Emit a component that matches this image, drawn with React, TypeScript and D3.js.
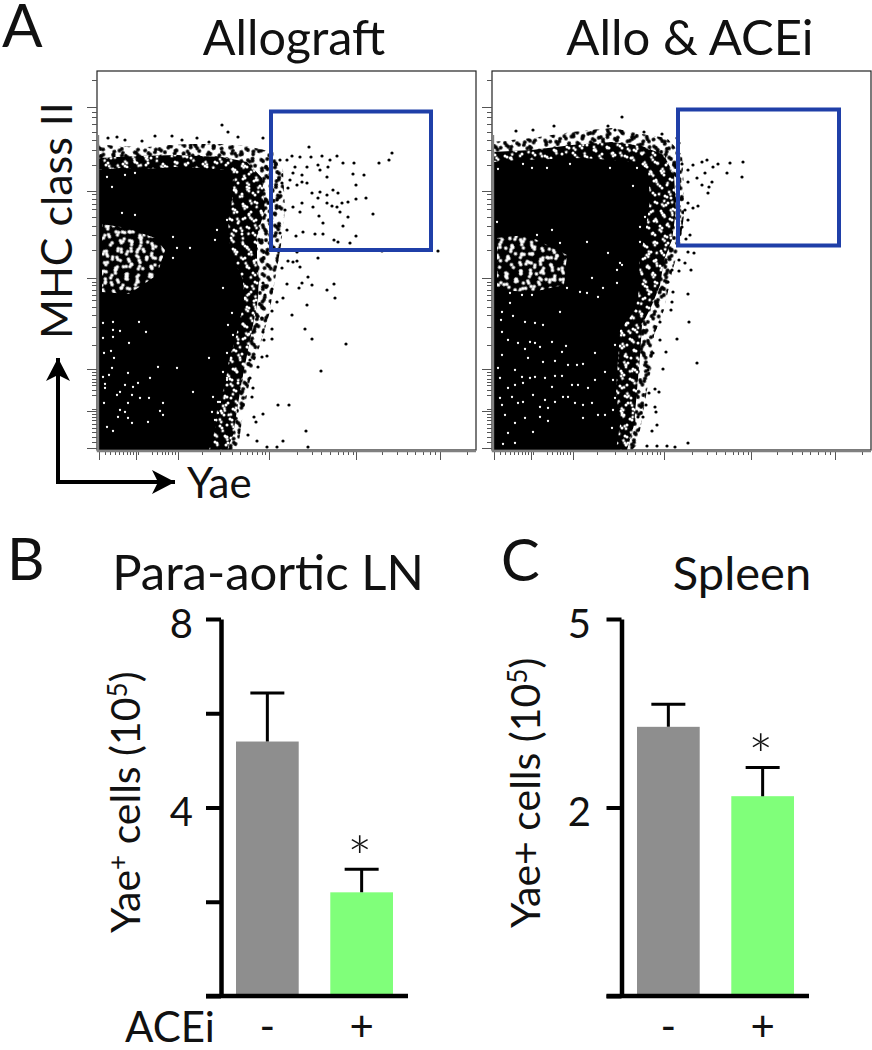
import React, { useEffect, useRef } from 'react';
import * as d3 from 'd3';

type Pt = [number, number];

// Flow plots, both axes in display channels 0-379
const channelMax = 379;
const majorTicks = [2, 39, 81, 172, 259, 343];
const minorTicks = [8, 13, 18, 22, 26, 30, 33, 36, 41, 55, 60, 65, 68, 71, 75, 78, 105, 123, 135, 143, 150, 155, 160, 165, 168,
  200, 215, 224, 233, 241, 246, 251, 256, 285, 300, 310, 318, 326, 333, 338, 370];

// Allograft: outlines of the solid cloud, its speckled rim and the scattered edge
const alloCore: Pt[] = [[0, 280], [23, 282], [43, 281], [63, 282], [78, 283], [103, 282], [128, 280], [136, 272], [135, 250], [131, 228],
  [133, 205], [138, 188], [146, 170], [147, 150], [143, 130], [138, 110], [132, 90], [128, 65], [120, 40], [118, 20], [112, 0], [0, 0]];
const alloRim: Pt[] = [[0, 292], [40, 294], [80, 295], [125, 293], [150, 288], [165, 272], [168, 240], [160, 215], [160, 190], [162, 170],
  [160, 145], [155, 120], [150, 95], [145, 70], [140, 40], [136, 15], [130, 0], [0, 0]];
const alloEdge: Pt[] = [[0, 306], [20, 304], [50, 303], [90, 306], [125, 306], [150, 304], [176, 298], [186, 280], [188, 240], [184, 205],
  [178, 170], [172, 135], [164, 108], [155, 80], [150, 55], [145, 30], [142, 8], [138, 0], [0, 0]];
const alloHole: Pt[] = [[5, 226], [30, 222], [58, 212], [68, 200], [60, 175], [32, 156], [5, 158]];
// gaps in the solid cloud
const alloGaps: Pt[] = [[6, 127], [16, 128], [42, 128], [16, 120], [23, 119], [49, 118], [6, 112], [16, 113], [32, 107], [7, 97], [14, 99],
  [17, 92], [61, 83], [80, 82], [112, 92], [15, 82], [31, 77], [12, 75], [6, 73], [53, 72], [8, 66], [28, 65], [41, 67], [36, 63], [8, 62],
  [23, 58], [20, 55], [96, 58], [35, 55], [43, 52], [52, 52], [66, 47], [31, 47], [7, 47], [23, 40], [63, 39], [28, 38], [66, 35], [21, 33],
  [31, 32], [35, 27], [10, 23], [16, 19], [51, 28], [116, 53], [121, 48], [115, 38], [121, 37], [118, 30], [126, 78], [126, 162], [130, 72],
  [135, 137], [131, 125], [136, 115], [130, 97], [123, 48], [130, 70], [10, 273], [15, 263], [28, 275], [38, 277], [76, 213], [80, 202],
  [93, 202], [76, 192], [120, 220], [130, 230], [118, 210], [25, 237], [38, 235]];
const alloDots: Pt[] = [[125, 325], [131, 318], [141, 313], [166, 312], [212, 303], [295, 297], [292, 290], [282, 287], [240, 294], [225, 294],
  [203, 293], [195, 294], [214, 293], [233, 290], [246, 287], [257, 287], [221, 285], [231, 283], [223, 280], [256, 276], [267, 275],
  [230, 273], [259, 265], [236, 260], [241, 257], [269, 252], [259, 251], [251, 248], [245, 247], [230, 255], [223, 258], [215, 257],
  [221, 252], [230, 247], [235, 244], [240, 243], [243, 238], [276, 236], [251, 233], [222, 234], [216, 243], [205, 247], [196, 243],
  [188, 240], [203, 238], [226, 227], [246, 224], [190, 220], [183, 217], [206, 218], [199, 214], [218, 216], [226, 216], [259, 214],
  [237, 210], [241, 208], [253, 207], [341, 199], [285, 199], [221, 192], [200, 198], [191, 189], [200, 189], [183, 290], [196, 277],
  [193, 270], [200, 265], [191, 262], [183, 258], [180, 250], [185, 267], [205, 275], [210, 283], [205, 268], [210, 267], [198, 283],
  [190, 290], [185, 182], [196, 188], [203, 183], [211, 173], [190, 166], [205, 167], [215, 165], [202, 162], [230, 160], [237, 166],
  [238, 152], [186, 152], [180, 148], [210, 145], [195, 135], [208, 121], [215, 111], [249, 106], [224, 79], [181, 45], [192, 45],
  [209, 19], [186, 9], [211, 3], [180, 3], [170, 3], [160, 9], [151, 15], [166, 36], [157, 33], [159, 28], [156, 62], [155, 53],
  [153, 72], [170, 94], [165, 93], [161, 83], [153, 90], [175, 111], [167, 110], [175, 121], [166, 118], [175, 139], [165, 132],
  [175, 161], [168, 155], [166, 167], [11, 312], [20, 313], [28, 310], [45, 309], [58, 314], [75, 314], [85, 310], [100, 312], [112, 308]];

// Allo & ACEi
const aceCore: Pt[] = [[0, 288], [30, 290], [60, 291], [90, 292], [120, 290], [145, 288], [156, 280], [158, 250], [152, 210], [147, 190],
  [148, 165], [143, 140], [128, 120], [126, 90], [124, 60], [128, 25], [124, 0], [0, 0]];
const aceRim: Pt[] = [[0, 298], [40, 300], [80, 305], [120, 308], [150, 304], [172, 295], [182, 275], [184, 240], [180, 210], [172, 190],
  [168, 165], [160, 145], [150, 125], [148, 95], [145, 60], [142, 25], [135, 0], [0, 0]];
const aceEdge: Pt[] = [[0, 308], [40, 312], [80, 318], [120, 322], [150, 316], [175, 312], [190, 295], [192, 262], [192, 235], [188, 205],
  [180, 178], [172, 140], [162, 115], [160, 85], [155, 60], [150, 30], [145, 5], [140, 0], [0, 0]];
const aceHole: Pt[] = [[5, 212], [35, 215], [55, 205], [75, 195], [72, 165], [40, 158], [5, 160]];
const aceGaps: Pt[] = [[10, 138], [9, 130], [18, 147], [21, 134], [33, 128], [43, 127], [51, 125], [10, 118], [16, 110], [26, 107], [38, 108],
  [43, 107], [60, 108], [48, 103], [33, 101], [70, 98], [74, 104], [10, 95], [36, 92], [51, 88], [63, 89], [6, 82], [23, 80], [30, 73],
  [38, 72], [43, 73], [8, 72], [53, 72], [63, 74], [70, 74], [76, 85], [85, 85], [91, 86], [103, 97], [113, 78], [103, 70], [80, 65], [86, 65],
  [96, 62], [23, 65], [16, 62], [31, 67], [8, 52], [20, 53], [26, 47], [41, 55], [31, 48], [53, 50], [60, 63], [63, 48], [71, 53], [76, 53],
  [83, 47], [91, 45], [100, 47], [106, 35], [113, 35], [91, 32], [10, 45], [13, 35], [23, 27], [33, 32], [48, 43], [56, 42], [48, 33], [56, 29],
  [41, 18], [16, 17], [11, 6], [23, 7], [120, 22], [121, 40], [123, 52], [121, 70], [123, 105], [68, 138], [88, 158], [95, 157], [106, 153],
  [111, 162], [125, 167], [100, 172], [125, 180], [130, 185], [75, 162], [30, 155], [40, 155], [18, 157], [6, 281], [31, 286], [40, 282],
  [55, 282], [78, 286], [118, 282], [145, 282], [141, 264], [153, 233], [5, 228], [60, 220], [148, 223], [45, 215], [68, 207], [95, 208],
  [116, 197], [128, 187], [148, 208]];
const aceDots: Pt[] = [[130, 333], [62, 324], [24, 319], [41, 320], [116, 324], [123, 320], [130, 317], [170, 316], [152, 318], [185, 312],
  [187, 307], [251, 288], [238, 287], [226, 286], [215, 290], [210, 288], [221, 283], [235, 277], [250, 273], [213, 277], [196, 280],
  [201, 285], [190, 286], [205, 272], [196, 268], [210, 265], [220, 268], [217, 263], [216, 257], [206, 244], [196, 247], [201, 242],
  [193, 240], [196, 230], [198, 215], [194, 211], [190, 223], [196, 198], [202, 197], [187, 190], [193, 187], [196, 156], [197, 128],
  [185, 111], [205, 87], [171, 81], [174, 98], [168, 110], [168, 128], [179, 140], [180, 148], [181, 158], [187, 179], [199, 180],
  [180, 180], [176, 168], [170, 162], [167, 58], [163, 61], [157, 57], [163, 43], [164, 38], [165, 25], [160, 19], [151, 33], [146, 33],
  [154, 45], [196, 7], [183, 3], [175, 4], [165, 4], [155, 4], [156, 80], [161, 97]];

// Gates in channels: [x0, x1, y0, y1]
const alloGate = [174, 334, 200, 338.5];
const aceGate = [186, 347, 204.5, 340.5];

// Hand placed texture tiles for the dense cloud
const tileA: Pt[] = [[3, 4], [5, 6], [7, 7], [15, 2], [17, 3], [26, 5], [28, 3], [33, 9], [35, 10], [37, 12], [11, 12], [9, 14], [21, 11],
  [22, 13], [24, 15], [3, 19], [5, 18], [14, 21], [16, 20], [30, 19], [32, 20], [38, 23], [7, 27], [9, 28], [20, 26], [22, 28], [27, 25],
  [34, 30], [36, 31], [2, 34], [13, 33], [15, 35], [25, 36], [27, 37], [31, 38]];
const tileB: Pt[] = [[4, 2], [6, 3], [14, 5], [16, 7], [17, 9], [27, 3], [29, 4], [38, 2], [44, 6], [46, 7], [50, 11], [8, 12], [10, 13],
  [22, 12], [24, 11], [33, 13], [35, 15], [41, 17], [2, 18], [4, 20], [15, 19], [17, 21], [28, 20], [30, 22], [47, 21], [49, 23], [9, 27],
  [11, 28], [21, 29], [36, 27], [38, 29], [40, 30], [3, 33], [15, 35], [17, 36], [26, 34], [28, 36], [45, 35], [47, 37], [7, 41], [9, 43],
  [20, 44], [32, 42], [34, 44], [41, 45], [51, 46], [13, 50], [25, 50], [27, 51], [37, 51], [5, 51]];

// Bar panels
const treatments = ['-', '+'];
const lnMeans = [5.4, 2.2];
const lnTops = [6.43, 2.69];
const lnTicks = [0, 2, 4, 6, 8];
const spleenMeans = [3.57, 2.65];
const spleenTops = [3.87, 3.03];
const spleenTicks = [0, 2.5, 5];
const barColors = ['#8e8e8e', '#80ff7a'];

const FONT = 'Lato, "Open Sans", sans-serif';
const INK = '#111';

export default function App() {
  const ref = useRef<SVGSVGElement>(null);

  useEffect(() => {
    const svg = d3.select(ref.current);
    svg.selectAll('*').remove();
    const defs = svg.append('defs');

    defs.append('filter').attr('id', 'soft').append('feGaussianBlur').attr('stdDeviation', 0.5);

    const marker = defs.append('marker').attr('id', 'head').attr('markerUnits', 'userSpaceOnUse')
      .attr('viewBox', '-2 -14 28 28').attr('refX', 23).attr('refY', 0)
      .attr('markerWidth', 28).attr('markerHeight', 28).attr('orient', 'auto');
    marker.append('path').attr('d', 'M0,-12L23,0L0,12L6,0Z').attr('fill', '#000');

    const addPattern = (id: string, size: number, pts: Pt[], r: number, rotate: number, color: string) => {
      const p = defs.append('pattern').attr('id', id).attr('patternUnits', 'userSpaceOnUse')
        .attr('width', size).attr('height', size).attr('patternTransform', `rotate(${rotate})`);
      p.selectAll('circle').data(pts).enter().append('circle')
        .attr('cx', d => d[0]).attr('cy', d => d[1]).attr('r', r).attr('fill', color);
    };
    addPattern('inkA', 40, tileA, 1.9, 11, '#000');
    addPattern('inkB', 53, tileB, 1.9, 63, '#000');
    addPattern('rimA', 40, tileA, 1.5, 0, '#fff');
    addPattern('rimB', 53, tileB, 1.4, 17, '#fff');
    addPattern('holeA', 40, tileA, 1.8, 40, '#fff');
    addPattern('holeB', 53, tileB, 1.7, 70, '#fff');

    const y = d3.scaleLinear().domain([0, channelMax]).range([450, 71]);

    const drawFlow = (left: number, core: Pt[], rim: Pt[], edge: Pt[], hole: Pt[], gaps: Pt[], dots: Pt[], gate: number[]) => {
      const x = d3.scaleLinear().domain([0, channelMax]).range([left, left + 379]);
      const line = d3.line<Pt>().x(d => x(d[0])).y(d => y(d[1])).curve(d3.curveLinearClosed);
      const g = svg.append('g');
      const clipId = `frame${left}`;
      defs.append('clipPath').attr('id', clipId).append('rect')
        .attr('x', x(0)).attr('y', y(channelMax)).attr('width', 379).attr('height', 379);
      const cloud = g.append('g').attr('clip-path', `url(#${clipId})`).append('g').attr('filter', 'url(#soft)');

      ['inkA', 'inkB'].forEach(p => cloud.append('path').attr('d', line(edge)).attr('fill', `url(#${p})`));
      cloud.append('path').attr('d', line(rim)).attr('fill', '#000');
      ['rimA', 'rimB'].forEach(p => cloud.append('path').attr('d', line(rim)).attr('fill', `url(#${p})`));
      cloud.append('path').attr('d', line(core)).attr('fill', '#000');
      ['holeA', 'holeB'].forEach(p => cloud.append('path').attr('d', line(hole)).attr('fill', `url(#${p})`));

      cloud.selectAll('circle.gap').data(gaps).enter().append('circle').attr('class', 'gap')
        .attr('cx', d => x(d[0])).attr('cy', d => y(d[1])).attr('r', 1.15).attr('fill', '#fff');
      cloud.selectAll('circle.dot').data(dots).enter().append('circle').attr('class', 'dot')
        .attr('cx', d => x(d[0])).attr('cy', d => y(d[1])).attr('r', 1.6).attr('fill', '#000');

      g.append('rect').attr('x', x(gate[0])).attr('y', y(gate[3]))
        .attr('width', x(gate[1]) - x(gate[0])).attr('height', y(gate[2]) - y(gate[3]))
        .attr('fill', 'none').attr('stroke', '#1f3fa8').attr('stroke-width', 4);

      // frame: thin black all round, heavier grey left and bottom
      g.append('rect').attr('x', x(0)).attr('y', y(channelMax)).attr('width', 379).attr('height', 379)
        .attr('fill', 'none').attr('stroke', '#222').attr('stroke-width', 1.2);

      const axes = g.append('g').attr('color', '#555');
      const noLabel = () => '';
      const bottom = axes.append('g').attr('transform', `translate(0,${y(0)})`);
      bottom.append('g').call(d3.axisBottom(x).tickValues(majorTicks).tickSize(10).tickFormat(noLabel));
      bottom.append('g').call(d3.axisBottom(x).tickValues(minorTicks).tickSize(5).tickFormat(noLabel));
      const leftAxis = axes.append('g').attr('transform', `translate(${x(0)},0)`);
      leftAxis.append('g').call(d3.axisLeft(y).tickValues(majorTicks).tickSize(10).tickFormat(noLabel));
      leftAxis.append('g').call(d3.axisLeft(y).tickValues(minorTicks).tickSize(5).tickFormat(noLabel));
      axes.selectAll('.domain').remove();

      g.append('path').attr('d', `M${x(0) + 1},${y(channelMax) + 64}V${y(0) + 1}H${x(channelMax)}`)
        .attr('fill', 'none').attr('stroke', '#808080').attr('stroke-width', 2.4);
    };

    drawFlow(97, alloCore, alloRim, alloEdge, alloHole, alloGaps, alloDots, alloGate);
    drawFlow(492, aceCore, aceRim, aceEdge, aceHole, aceGaps, aceDots, aceGate);

    const label = (t: string, px: number, py: number, size: number, anchor = 'start') =>
      svg.append('text').attr('x', px).attr('y', py).attr('font-size', size).attr('text-anchor', anchor)
        .attr('font-family', FONT).attr('fill', INK).text(t);

    label('A', 2, 47, 60);
    label('B', 7, 580, 58);
    label('C', 501, 581, 58);
    label('Allograft', 294, 55, 48.5, 'middle');
    label('Allo & ACEi', 690, 55, 49, 'middle');
    label('Para-aortic LN', 268, 590, 49, 'middle');
    label('Spleen', 742, 590, 47, 'middle');
    label('Yae', 187, 498, 42);

    const rotated = (px: number, py: number, size = 41) =>
      svg.append('text').attr('transform', `translate(${px},${py}) rotate(-90)`).attr('font-size', size)
        .attr('font-family', FONT).attr('fill', INK);
    rotated(72, 339, 43).text('MHC class II');

    const sup = (t: any, s: string, after: string) => {
      t.append('tspan').attr('dy', -13).attr('font-size', 26).text(s);
      t.append('tspan').attr('dy', 13).text(after);
    };
    const lnLabel = rotated(140, 933) as any;
    lnLabel.append('tspan').text('Yae');
    sup(lnLabel, '+', ' cells (10');
    sup(lnLabel, '5', ')');
    const spleenLabel = rotated(540, 928) as any;
    spleenLabel.append('tspan').text('Yae+ cells (10');
    sup(spleenLabel, '5', ')');

    // arrows of the flow plot axes
    const arrow = d3.line();
    svg.append('path').attr('d', arrow([[58, 482], [58, 358]])).attr('stroke', '#000').attr('stroke-width', 4)
      .attr('fill', 'none').attr('marker-end', 'url(#head)');
    svg.append('path').attr('d', arrow([[56, 482], [175, 482]])).attr('stroke', '#000').attr('stroke-width', 4)
      .attr('fill', 'none').attr('marker-end', 'url(#head)');

    const drawBars = (opts: { axisX: number; barRange: [number, number]; domainMax: number; means: number[]; tops: number[];
      ticks: number[]; tickText: Record<number, string>; end: number; capHalf: number; labelX: number; starDy: number }) => {
      const { axisX, barRange, domainMax, means, tops, ticks, tickText, end, capHalf, labelX } = opts;
      const vy = d3.scaleLinear().domain([0, domainMax]).range([996, 619]);
      const bx = d3.scaleBand().domain(treatments).range(barRange).paddingInner(0.335).paddingOuter(0);
      const g = svg.append('g');

      g.selectAll('rect').data(means).enter().append('rect')
        .attr('x', (_, i) => bx(treatments[i])!).attr('width', bx.bandwidth())
        .attr('y', d => vy(d)).attr('height', d => vy(0) - vy(d))
        .attr('fill', (_, i) => barColors[i]);

      tops.forEach((t, i) => {
        const cx = bx(treatments[i])! + bx.bandwidth() / 2;
        g.append('path').attr('d', `M${cx},${vy(means[i])}V${vy(t)}M${cx - capHalf},${vy(t)}H${cx + capHalf}`)
          .attr('fill', 'none').attr('stroke', '#000').attr('stroke-width', 3);
      });

      const axis = g.append('g').attr('transform', `translate(${axisX},0)`)
        .call(d3.axisLeft(vy).tickValues(ticks).tickSize(15).tickSizeOuter(0).tickFormat(() => ''));
      axis.selectAll('line').attr('stroke', '#000').attr('stroke-width', 4);
      axis.selectAll('.domain').attr('stroke', '#000').attr('stroke-width', 4.5);

      g.append('path').attr('d', `M${axisX - 15},${vy(0)}H${end}`).attr('stroke', '#000').attr('stroke-width', 4.5);

      ticks.filter(t => tickText[t]).forEach(t => {
        label(tickText[t], labelX, vy(t) + (t === domainMax ? 19 : 18), 40, 'end');
      });

      // asterisk over the treated bar, minus and plus under the bars
      const treated = bx('+')! + bx.bandwidth() / 2;
      label('*', treated - 2, vy(tops[1]) + opts.starDy, 60, 'middle').attr('font-weight', 300);
      treatments.forEach(t => {
        label(t, bx(t)! + bx.bandwidth() / 2, 1041, 42, 'middle');
      });
    };

    drawBars({ axisX: 221, barRange: [236, 393], domainMax: 8, means: lnMeans, tops: lnTops, ticks: lnTicks,
      tickText: { 8: '8', 4: '4' }, end: 408, capHalf: 17, labelX: 193, starDy: 11 });
    drawBars({ axisX: 621.5, barRange: [637, 794], domainMax: 5, means: spleenMeans, tops: spleenTops, ticks: spleenTicks,
      tickText: { 5: '5', 2.5: '2' }, end: 809, capHalf: 17, labelX: 591, starDy: 10 });

    label('ACEi', 125, 1042, 42);
  }, []);

  return <svg ref={ref} width={872} height={1050} style={{ position: 'absolute', left: 0, top: 0, background: '#fff' }} />;
}
